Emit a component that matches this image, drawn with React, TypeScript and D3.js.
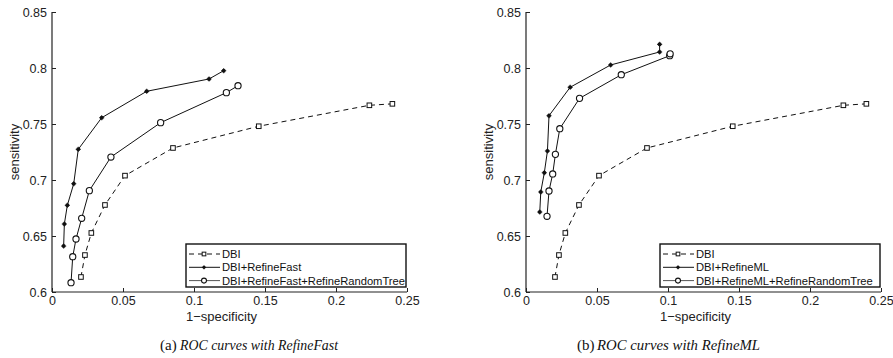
import React, { useRef, useEffect } from "react";
import * as d3 from "d3";

type Pt = [number, number];

const xTicks = [0, 0.05, 0.1, 0.15, 0.2, 0.25];
const yTicks = [0.6, 0.65, 0.7, 0.75, 0.8, 0.85];

const dbi: Pt[] = [
  [0.0204, 0.6134], [0.0232, 0.633], [0.0277, 0.6527], [0.0373, 0.6777],
  [0.0514, 0.7039], [0.0852, 0.7286], [0.1456, 0.748], [0.2235, 0.7667],
  [0.2397, 0.768],
];

const refineFast: Pt[] = [
  [0.0082, 0.641], [0.0087, 0.6607], [0.0108, 0.6774], [0.0153, 0.6967],
  [0.0185, 0.7274], [0.035, 0.7556], [0.0667, 0.7792], [0.1106, 0.7902],
  [0.1209, 0.7976],
];

const refineFastRT: Pt[] = [
  [0.0134, 0.6083], [0.0146, 0.6315], [0.0169, 0.6473], [0.0209, 0.6658],
  [0.0263, 0.6905], [0.0415, 0.7205], [0.0765, 0.7512], [0.1228, 0.778],
  [0.131, 0.7842],
];

const refineML: Pt[] = [
  [0.0097, 0.6714], [0.0104, 0.6893], [0.0129, 0.7065], [0.0151, 0.7259],
  [0.0162, 0.7574], [0.0311, 0.7828], [0.0596, 0.8027], [0.0941, 0.8143],
  [0.0941, 0.8211],
];

const refineMLRT: Pt[] = [
  [0.0148, 0.6676], [0.0162, 0.6902], [0.0188, 0.7054], [0.0207, 0.7229],
  [0.0238, 0.7458], [0.0377, 0.7729], [0.0671, 0.794], [0.1012, 0.811],
  [0.1015, 0.8127],
];

const legendA = ["DBI", "DBI+RefineFast", "DBI+RefineFast+RefineRandomTree"];
const legendB = ["DBI", "DBI+RefineML", "DBI+RefineML+RefineRandomTree"];

const FONT = "'Liberation Sans', Arial, Helvetica, sans-serif";

type PanelProps = {
  left: number;
  series: Pt[][];
  labels: string[];
};

const Panel = ({ left, series, labels }: PanelProps) => {
  const gRef = useRef<SVGGElement>(null);

  useEffect(() => {
    const width = 355;
    const top = 12;
    const height = 280;

    const g = d3.select(gRef.current);
    g.selectAll("*").remove();

    const chart = g.append("g").attr("transform", `translate(${left}, ${top})`);

    const x = d3.scaleLinear().domain([0, 0.25]).range([0, width]);
    const y = d3.scaleLinear().domain([0.6, 0.85]).range([height, 0]);

    // axes with inward ticks, no box
    const xAxis = d3
      .axisBottom(x)
      .tickValues(xTicks)
      .tickSize(-4)
      .tickPadding(4)
      .tickFormat((d) => String(+d));
    const yAxis = d3
      .axisLeft(y)
      .tickValues(yTicks)
      .tickSize(-4)
      .tickPadding(5)
      .tickFormat((d) => String(+d));

    const xa = chart.append("g").attr("transform", `translate(0, ${height})`).call(xAxis);
    const ya = chart.append("g").call(yAxis);
    [xa, ya].forEach((a) => {
      a.select(".domain").attr("stroke", "#222").attr("stroke-width", 1.2);
      a.selectAll(".tick line").attr("stroke", "#222");
      a.selectAll(".tick text")
        .attr("font-family", FONT)
        .attr("font-size", 12.5)
        .attr("fill", "#222");
    });
    ya.select(".domain").attr("d", `M0,${height}V0`);
    xa.select(".domain").attr("d", `M0,0H${width}`);

    chart
      .append("text")
      .attr("x", width / 2 - 8)
      .attr("y", height + 29)
      .attr("text-anchor", "middle")
      .attr("font-family", FONT)
      .attr("font-size", 13)
      .attr("fill", "#222")
      .text("1\u2212specificity");

    chart
      .append("text")
      .attr("transform", `translate(-33, ${y(0.725)}) rotate(-90)`)
      .attr("text-anchor", "middle")
      .attr("font-family", FONT)
      .attr("font-size", 13)
      .attr("fill", "#222")
      .text("sensitivity");

    const line = d3
      .line<Pt>()
      .x((d) => x(d[0]))
      .y((d) => y(d[1]));

    const dashes = ["5,4", null, null];

    const drawMarker = (
      sel: d3.Selection<SVGGElement, unknown, null, undefined>,
      kind: number,
      cx: number,
      cy: number,
      s: number
    ) => {
      if (kind === 0) {
        sel
          .append("rect")
          .attr("x", cx - 2.3 * s)
          .attr("y", cy - 2.3 * s)
          .attr("width", 4.6 * s)
          .attr("height", 4.6 * s)
          .attr("fill", "white")
          .attr("stroke", "#111")
          .attr("stroke-width", 1);
      } else if (kind === 1) {
        sel
          .append("circle")
          .attr("cx", cx)
          .attr("cy", cy)
          .attr("r", 2 * s)
          .attr("fill", "#111");
        sel
          .append("path")
          .attr("d", `M${cx - 2.6 * s},${cy}H${cx + 2.6 * s}M${cx},${cy - 2.6 * s}V${cy + 2.6 * s}`)
          .attr("stroke", "#111")
          .attr("stroke-width", 0.8);
      } else {
        sel
          .append("circle")
          .attr("cx", cx)
          .attr("cy", cy)
          .attr("r", 3.1 * s)
          .attr("fill", "white")
          .attr("stroke", "#111")
          .attr("stroke-width", 1.1);
      }
    };

    series.forEach((s, i) => {
      chart
        .append("path")
        .datum(s)
        .attr("d", line)
        .attr("fill", "none")
        .attr("stroke", "#111")
        .attr("stroke-width", 1)
        .attr("stroke-dasharray", dashes[i]);
      const mg = chart.append("g");
      s.forEach((d) => drawMarker(mg, i, x(d[0]), y(d[1]), 1));
    });

    // Legend
    const lx = 134;
    const ly = 232;
    const lw = 220;
    const legend = chart.append("g").attr("transform", `translate(${lx}, ${ly})`);
    legend
      .append("rect")
      .attr("width", lw)
      .attr("height", 43)
      .attr("fill", "white")
      .attr("stroke", "#111")
      .attr("stroke-width", 1.4);
    labels.forEach((lab, i) => {
      const yy = 10 + i * 13.3;
      legend
        .append("line")
        .attr("x1", 3)
        .attr("x2", 34)
        .attr("y1", yy)
        .attr("y2", yy)
        .attr("stroke", i === 2 ? "#555" : "#111")
        .attr("stroke-width", 1)
        .attr("stroke-dasharray", i === 0 ? "5,4" : null);
      const mg = legend.append("g");
      drawMarker(mg, i, 18, yy, 0.8);
      legend
        .append("text")
        .attr("x", 36)
        .attr("y", yy + 4)
        .attr("font-family", FONT)
        .attr("font-size", 11.2)
        .attr("fill", "#111")
        .text(lab);
    });
  }, [left, series, labels]);

  return <g ref={gRef} />;
};

const Caption = ({ x, tag, text, len }: { x: number; tag: string; text: string; len: number }) => (
  <text y={350} fontFamily="'Liberation Serif', 'Times New Roman', serif" fontSize={15} fill="#111">
    <tspan x={x}>{tag}</tspan>
    <tspan x={x + 20} fontStyle="italic" textLength={len} lengthAdjust="spacingAndGlyphs">
      {text}
    </tspan>
  </text>
);

export default function App() {
  return (
    <svg
      width={893}
      height={358}
      style={{ position: "absolute", left: 0, top: 0, background: "white" }}
    >
      <rect width={893} height={358} fill="white" />
      <Panel left={52} series={[dbi, refineFast, refineFastRT]} labels={legendA} />
      <Panel left={526} series={[dbi, refineML, refineMLRT]} labels={legendB} />
      <Caption x={160} tag="(a)" text="ROC curves with RefineFast" len={158} />
      <Caption x={577} tag="(b)" text="ROC curves with RefineML" len={163} />
    </svg>
  );
}
